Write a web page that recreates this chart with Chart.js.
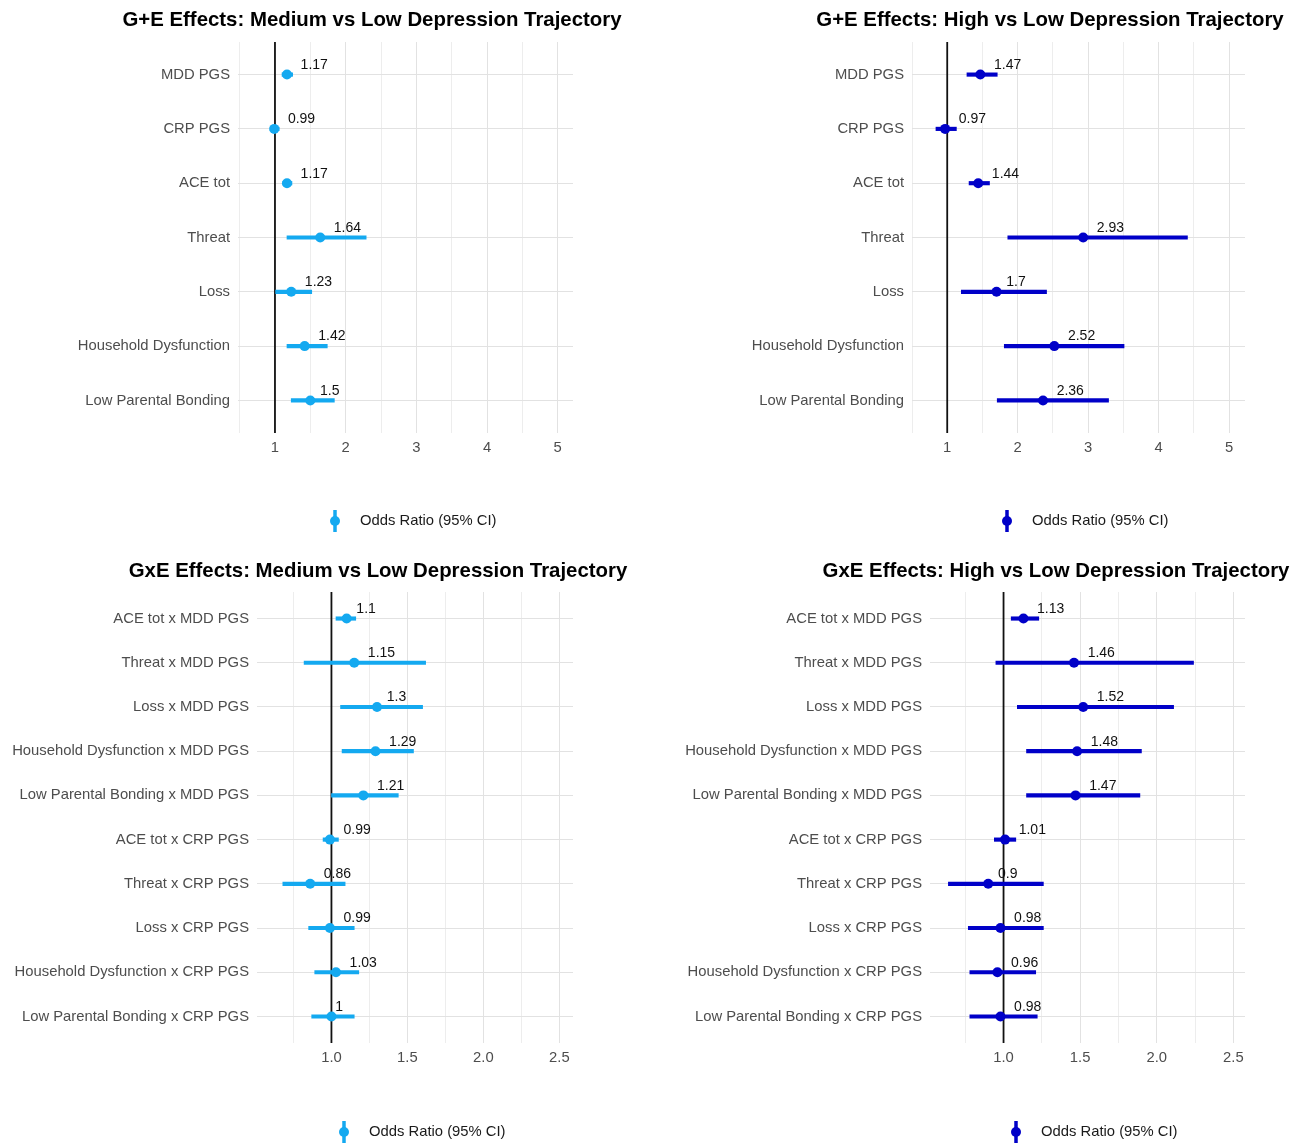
<!DOCTYPE html>
<html>
<head>
<meta charset="utf-8">
<script src="https://cdn.jsdelivr.net/npm/chart.js@4/dist/chart.umd.min.js"></script>
<style>
  body { margin: 0; background: #fff; }
  #page { position: relative; width: 1303px; height: 1144px; background: #fff; }
  .panel { position: absolute; }
</style>
</head>
<body>
<div id="page">
  <canvas id="geMed" class="panel" width="652" height="550" style="left:0;top:0"></canvas>
  <canvas id="geHigh" class="panel" width="651" height="550" style="left:652px;top:0"></canvas>
  <canvas id="gxeMed" class="panel" width="652" height="594" style="left:0;top:550px"></canvas>
  <canvas id="gxeHigh" class="panel" width="651" height="594" style="left:652px;top:550px"></canvas>
</div>
<script>
/* =========================================================
   DATA
========================================================= */
const gePredictors = ["MDD PGS", "CRP PGS", "ACE tot", "Threat", "Loss",
  "Household Dysfunction", "Low Parental Bonding"];

const geMedOR = [1.17, 0.99, 1.17, 1.64, 1.23, 1.42, 1.5];
const geMedLo = [1.10, 0.93, 1.11, 1.17, 1.01, 1.17, 1.23];
const geMedHi = [1.25, 1.06, 1.24, 2.29, 1.52, 1.74, 1.84];

const geHighOR = [1.47, 0.97, 1.44, 2.93, 1.7, 2.52, 2.36];
const geHighLo = [1.28, 0.84, 1.31, 1.86, 1.20, 1.81, 1.71];
const geHighHi = [1.71, 1.13, 1.60, 4.41, 2.41, 3.51, 3.29];

const gxePredictors = ["ACE tot x MDD PGS", "Threat x MDD PGS", "Loss x MDD PGS",
  "Household Dysfunction x MDD PGS", "Low Parental Bonding x MDD PGS",
  "ACE tot x CRP PGS", "Threat x CRP PGS", "Loss x CRP PGS",
  "Household Dysfunction x CRP PGS", "Low Parental Bonding x CRP PGS"];

const gxeMedOR = [1.1, 1.15, 1.3, 1.29, 1.21, 0.99, 0.86, 0.99, 1.03, 1];
const gxeMedLo = [1.03, 0.82, 1.06, 1.07, 1.00, 0.945, 0.68, 0.85, 0.89, 0.87];
const gxeMedHi = [1.16, 1.62, 1.60, 1.54, 1.44, 1.046, 1.09, 1.15, 1.18, 1.15];

const gxeHighOR = [1.13, 1.46, 1.52, 1.48, 1.47, 1.01, 0.9, 0.98, 0.96, 0.98];
const gxeHighLo = [1.05, 0.95, 1.09, 1.15, 1.15, 0.94, 0.64, 0.77, 0.78, 0.78];
const gxeHighHi = [1.23, 2.24, 2.11, 1.90, 1.89, 1.08, 1.26, 1.26, 1.21, 1.22];

const geTicks = [1, 2, 3, 4, 5];
const geTickLabels = ["1", "2", "3", "4", "5"];
const geMinor = [0.5, 1.5, 2.5, 3.5, 4.5];

const gxeTicks = [1, 1.5, 2, 2.5];
const gxeTickLabels = ["1.0", "1.5", "2.0", "2.5"];
const gxeMinor = [0.75, 1.25, 1.75, 2.25];

const legendText = "Odds Ratio (95% CI)";

/* =========================================================
   STYLE
========================================================= */
const FONT = "'Liberation Sans', Arial, sans-serif";
const LIGHT_BLUE = "#14A9F0";
const DARK_BLUE = "#0000C8";

/* =========================================================
   DECORATION PLUGIN (ref line, labels, title, legend)
========================================================= */
const forestDecor = {
  id: "forestDecor",
  beforeDatasetsDraw(chart) {
    const { ctx, chartArea, scales } = chart;
    const x = scales.x.getPixelForValue(1);
    ctx.save();
    ctx.strokeStyle = "#111";
    ctx.lineWidth = 1.8;
    ctx.beginPath();
    ctx.moveTo(x, chartArea.top);
    ctx.lineTo(x, chartArea.bottom);
    ctx.stroke();
    ctx.restore();
  },
  afterDatasetsDraw(chart, args, opts) {
    const { ctx, scales } = chart;
    ctx.save();
    ctx.font = `14px ${FONT}`;
    ctx.fillStyle = "#111";
    ctx.textBaseline = "middle";
    ctx.textAlign = "left";
    opts.values.forEach((v, i) => {
      const txt = String(v);
      const w = ctx.measureText(txt).width;
      const px = scales.x.getPixelForValue(v);
      const py = scales.y.getPixelForValue(i + 1);
      ctx.fillText(txt, px + w * 0.5, py - 9.5);
    });
    ctx.restore();
  },
  afterDraw(chart, args, opts) {
    const { ctx } = chart;
    ctx.save();
    ctx.font = `bold 20.4px ${FONT}`;
    ctx.fillStyle = "#000";
    ctx.textAlign = "center";
    ctx.textBaseline = "middle";
    ctx.fillText(opts.title, opts.titleX, opts.titleY);

    // legend key: pointrange glyph
    const lx = opts.legendX, ly = opts.legendY;
    ctx.strokeStyle = opts.color;
    ctx.fillStyle = opts.color;
    ctx.lineWidth = 3.5;
    ctx.beginPath();
    ctx.moveTo(lx, ly - 11);
    ctx.lineTo(lx, ly + 11);
    ctx.stroke();
    ctx.beginPath();
    ctx.arc(lx, ly, 5, 0, Math.PI * 2);
    ctx.fill();

    ctx.font = `14.8px ${FONT}`;
    ctx.fillStyle = "#1a1a1a";
    ctx.textAlign = "left";
    ctx.fillText(legendText, lx + 25, ly);
    ctx.restore();
  }
};

/* =========================================================
   PANEL BUILDER
========================================================= */
function makePanel(p) {
  const canvas = document.getElementById(p.id);
  const W = canvas.width, H = canvas.height;
  const n = p.labels.length;
  const gridVals = p.minor.concat(p.ticks).sort((a, b) => a - b);

  return new Chart(canvas, {
    type: "bar",
    data: {
      datasets: [
        {
          type: "bar",
          data: p.labels.map((_, i) => ({ x: [p.lo[i], p.hi[i]], y: i + 1 })),
          backgroundColor: p.color,
          borderWidth: 0,
          barThickness: 3.5,
          order: 2
        },
        {
          type: "scatter",
          data: p.labels.map((_, i) => ({ x: p.or[i], y: i + 1 })),
          backgroundColor: p.color,
          borderColor: p.color,
          borderWidth: 0,
          pointRadius: 5,
          pointHoverRadius: 5,
          showLine: false,
          order: 1
        }
      ]
    },
    options: {
      indexAxis: "y",
      responsive: false,
      animation: false,
      events: [],
      layout: { padding: { top: p.plot.t, right: W - p.plot.r, left: 0, bottom: 0 } },
      plugins: {
        legend: { display: false },
        tooltip: { enabled: false },
        forestDecor: {
          values: p.or,
          title: p.title,
          titleX: p.titleX,
          titleY: p.titleY,
          legendX: p.legendX,
          legendY: p.legendY,
          color: p.color
        }
      },
      scales: {
        x: {
          type: "linear",
          min: p.xMin,
          max: p.xMax,
          offset: false,
          afterBuildTicks: s => { s.ticks = gridVals.map(v => ({ value: v })); },
          afterFit: s => { s.height = H - p.plot.b; },
          ticks: {
            autoSkip: false,
            maxRotation: 0,
            padding: 6,
            color: "#4D4D4D",
            font: { family: FONT, size: 14.8 },
            callback: v => {
              const k = p.ticks.indexOf(v);
              return k >= 0 ? p.tickLabels[k] : "";
            }
          },
          grid: {
            offset: false,
            drawTicks: false,
            lineWidth: 1,
            color: c => (p.ticks.includes(c.tick.value) ? "#E2E2E2" : "#EDEDED")
          },
          border: { display: false }
        },
        y: {
          type: "linear",
          min: 0.4,
          max: n + 0.6,
          reverse: true,
          offset: false,
          afterBuildTicks: s => { s.ticks = p.labels.map((_, i) => ({ value: i + 1 })); },
          afterFit: s => { s.width = p.plot.l; },
          ticks: {
            autoSkip: false,
            padding: 8,
            color: "#4D4D4D",
            font: { family: FONT, size: 14.8 },
            callback: v => p.labels[v - 1]
          },
          grid: { offset: false, drawTicks: false, lineWidth: 1, color: "#E2E2E2" },
          border: { display: false }
        }
      }
    },
    plugins: [forestDecor]
  });
}

/* =========================================================
   RENDER
========================================================= */
makePanel({
  id: "geMed", title: "G+E Effects: Medium vs Low Depression Trajectory",
  labels: gePredictors, or: geMedOR, lo: geMedLo, hi: geMedHi, color: LIGHT_BLUE,
  xMin: 0.477, xMax: 5.216, ticks: geTicks, tickLabels: geTickLabels, minor: geMinor,
  plot: { l: 238, t: 42, r: 573, b: 433 },
  titleX: 372, titleY: 20, legendX: 335, legendY: 521
});

makePanel({
  id: "geHigh", title: "G+E Effects: High vs Low Depression Trajectory",
  labels: gePredictors, or: geHighOR, lo: geHighLo, hi: geHighHi, color: DARK_BLUE,
  xMin: 0.50, xMax: 5.227, ticks: geTicks, tickLabels: geTickLabels, minor: geMinor,
  plot: { l: 260, t: 42, r: 593, b: 433 },
  titleX: 398, titleY: 20, legendX: 355, legendY: 521
});

makePanel({
  id: "gxeMed", title: "GxE Effects: Medium vs Low Depression Trajectory",
  labels: gxePredictors, or: gxeMedOR, lo: gxeMedLo, hi: gxeMedHi, color: LIGHT_BLUE,
  xMin: 0.51, xMax: 2.59, ticks: gxeTicks, tickLabels: gxeTickLabels, minor: gxeMinor,
  plot: { l: 257, t: 42, r: 573, b: 493 },
  titleX: 378, titleY: 21, legendX: 344, legendY: 582
});

makePanel({
  id: "gxeHigh", title: "GxE Effects: High vs Low Depression Trajectory",
  labels: gxePredictors, or: gxeHighOR, lo: gxeHighLo, hi: gxeHighHi, color: DARK_BLUE,
  xMin: 0.52, xMax: 2.576, ticks: gxeTicks, tickLabels: gxeTickLabels, minor: gxeMinor,
  plot: { l: 278, t: 42, r: 593, b: 493 },
  titleX: 404, titleY: 21, legendX: 364, legendY: 582
});
</script>
</body>
</html>
